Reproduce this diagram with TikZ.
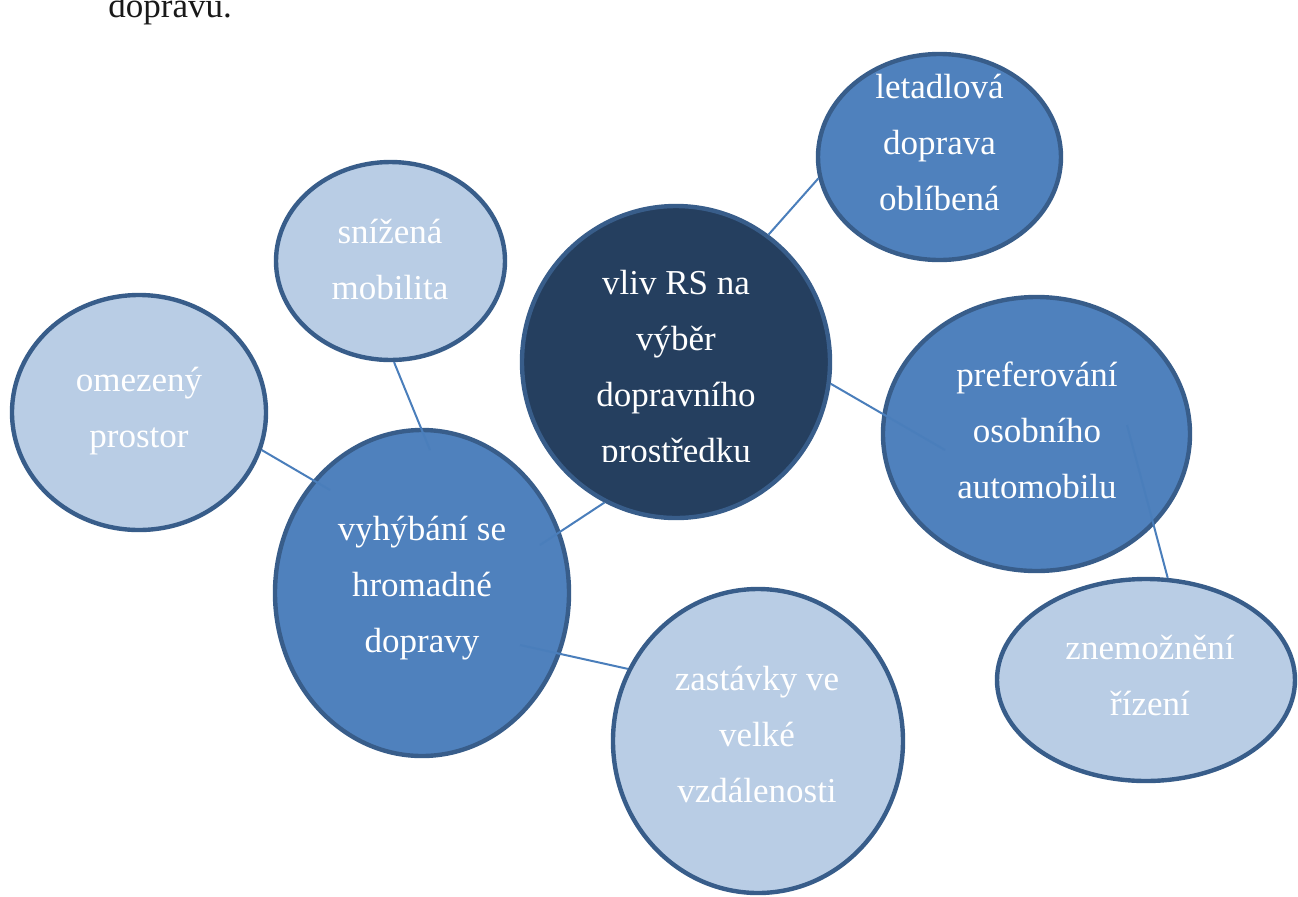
\documentclass[tikz,border=0pt]{standalone}
\usepackage{fontspec}
\setmainfont{Liberation Serif}
\usepackage{tikz}
\usetikzlibrary{shapes.geometric,positioning,calc}

\definecolor{bordercol}{HTML}{385D8A}
\definecolor{lightfill}{HTML}{B9CDE5}
\definecolor{midfill}{HTML}{4F81BD}
\definecolor{darkfill}{HTML}{253F5F}
\definecolor{linkcol}{HTML}{4A7EBB}

\tikzset{
  bubble/.style={ellipse, draw=bordercol, line width=2.2pt, inner sep=0pt},
  lightbubble/.style={bubble, fill=lightfill},
  midbubble/.style={bubble, fill=midfill},
  darkbubble/.style={bubble, fill=darkfill},
  link/.style={linkcol, line width=1pt},
  lbl/.style={text=white, align=center, inner sep=0pt, font=\fontsize{17.5}{28}\selectfont}
}

\begin{document}
\begin{tikzpicture}[x=0.5pt, y=-0.5pt]
        \useasboundingbox (0,0) rectangle (1298,896);
        \clip (0,0) rectangle (1298,896);

        % Text above
        \node[anchor=base west, inner sep=0pt, text=black!90, font=\fontsize{17.5}{28}\selectfont] (prev) at (108,17) {dopravu.};

        % Bubbles
        \node[midbubble, minimum width=121.5pt, minimum height=103pt] (let) at (939.5,157) {};
        \node[darkbubble, minimum width=154pt, minimum height=156pt] (cen) at (676,362) {};
        \node[lightbubble, minimum width=114.5pt, minimum height=99pt] (sni) at (390.5,261) {};
        \node[lightbubble, minimum width=127pt, minimum height=117.5pt] (ome) at (139,412.5) {};
        \node[midbubble, minimum width=147pt, minimum height=163pt] (vyh) at (422,593) {};
        \node[midbubble, minimum width=153.5pt, minimum height=137pt] (pref) at (1036.5,434) {};
        \node[lightbubble, minimum width=149pt, minimum height=101pt] (zne) at (1146,680) {};
        \node[lightbubble, minimum width=145pt, minimum height=152pt] (zas) at (758,741) {};

        % Inner line ends
        \coordinate (pref-in) at (945,450);
        \coordinate (pref-out) at (1127,425);
        \coordinate (vyh-top) at (540,545);
        \coordinate (vyh-low) at (520,645);
        \coordinate (vyh-left) at (330,490);
        \coordinate (vyh-up) at (430,450);

        % Links
        \draw[link] (cen.54) -- (let.190);
        \draw[link] (cen.-8) -- (pref-in);
        \draw[link] (pref-out) -- (zne.78);
        \draw[link] (cen.243) -- (vyh-top);
        \draw[link] (vyh-low) -- (zas.151);
        \draw[link] (ome.343) -- (vyh-left);
        \draw[link] (sni.272) -- (vyh-up);

        % Labels
        \node[lbl] (let-t) at (939.5,142) {letadlová\\doprava\\oblíbená};
        \begin{scope}
            \clip (520,200) rectangle (832,461);
            \node[lbl] (cen-t) at (676,370) {vliv RS na\\výběr\\dopravního\\prostředku};
        \end{scope}
        \node[lbl] (sni-t) at (390,259) {snížená\\mobilita};
        \node[lbl] (ome-t) at (139,411) {omezený\\prostor};
        \node[lbl] (vyh-t) at (422,588) {vyhýbání se\\hromadné\\dopravy};
        \node[lbl] (pref-t) at (1037,430) {preferování\\osobního\\automobilu};
        \node[lbl] (zne-t) at (1150,675) {znemožnění\\řízení};
        \node[lbl] (zas-t) at (757,734) {zastávky ve\\velké\\vzdálenosti};
    \end{tikzpicture}
\end{document}
